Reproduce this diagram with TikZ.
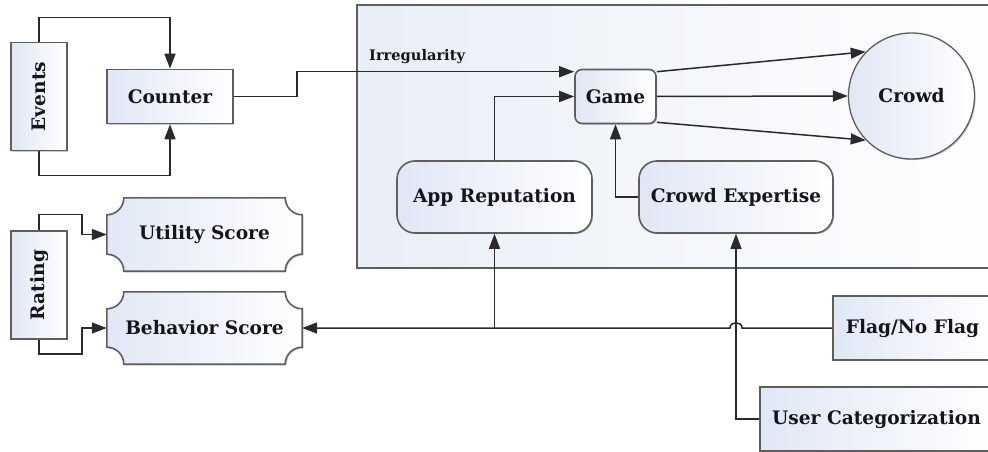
\documentclass[tikz,border=0pt]{standalone}
\usepackage{graphicx}
\usepackage{fontspec}
\setmainfont{DejaVu Serif}
\usetikzlibrary{arrows.meta,calc,shadows}
\pgfdeclarelayer{bg}
\pgfsetlayers{bg,main}
\definecolor{boxline}{HTML}{5E5E5E}
\definecolor{wire}{HTML}{2A2A2A}
\definecolor{tint}{HTML}{E0E7F5}
\definecolor{paneltint}{HTML}{E9EEF6}
\definecolor{ink}{HTML}{151520}
\newcommand\plaqueof[1]{%
  \begin{pgfonlayer}{bg}
  \path[plaque] let \p1=(#1.north west), \p2=(#1.south east) in
    ({\x1+17pt},{\y1}) -- ({\x2-17pt},{\y1})
    .. controls ({\x2-17pt},{\y1-9.4pt}) and ({\x2-9.4pt},{\y1-17pt}) .. ({\x2},{\y1-17pt})
    -- ({\x2},{\y2+17pt})
    .. controls ({\x2-9.4pt},{\y2+17pt}) and ({\x2-17pt},{\y2+9.4pt}) .. ({\x2-17pt},{\y2})
    -- ({\x1+17pt},{\y2})
    .. controls ({\x1+17pt},{\y2+9.4pt}) and ({\x1+9.4pt},{\y2+17pt}) .. ({\x1},{\y2+17pt})
    -- ({\x1},{\y1-17pt})
    .. controls ({\x1+9.4pt},{\y1-17pt}) and ({\x1+17pt},{\y1-9.4pt}) .. cycle;
  \end{pgfonlayer}}
\begin{document}
\begin{tikzpicture}[x=1pt,y=-1pt,
  every node/.style={font=\fontsize{18.6}{21}\selectfont\bfseries, text=ink, inner sep=0pt},
  shadedfill/.style={left color=tint, middle color=tint!30!white, right color=white},
  softshadow/.style={general shadow={fill=black, opacity=0.2, shadow xshift=1.2pt, shadow yshift=-1.2pt}},
  box/.style={draw=boxline, line width=1.6pt, shadedfill, softshadow, rectangle},
  rbox/.style={box, rounded corners=#1},
  plaque/.style={draw=boxline, line width=1.6pt, shadedfill, softshadow},
  textonly/.style={rectangle},
  wirearrow/.style={draw=wire, line width=1.5pt, -{Triangle[length=15pt,width=11pt]}},
  label/.style={font=\fontsize{14.6}{16}\selectfont\bfseries}]
\useasboundingbox (0,0) rectangle (988,452);
\clip (0,0) rectangle (988,452);
\path[draw=boxline, line width=1.6pt, left color=paneltint, middle color=paneltint!25!white, right color=white]
  (357,5) rectangle (1010,268);

% left column
\node[box, minimum width=56, minimum height=108] (events) at (39,96.5) {\rotatebox{90}{Events}};
\node[box, minimum width=126, minimum height=54] (counter) at (170,96.5) {Counter};
\node[box, minimum width=56, minimum height=108] (rating) at (39,285) {\rotatebox{90}{Rating}};
\node[textonly, minimum width=195, minimum height=73] (utility) at (204.5,234.5) {Utility Score};
\plaqueof{utility}
\node[textonly, minimum width=195, minimum height=72] (behavior) at (204.5,328) {Behavior Score};
\plaqueof{behavior}

% panel
\node[label, anchor=base west] (irreg) at (369,61) {Irregularity};
\node[rbox=7pt, minimum width=81, minimum height=54] (game) at (615.5,96.5) {Game};
\node[box, circle, minimum size=126, line width=1.3pt] (crowd) at (911.5,96) {Crowd};
\node[rbox=18pt, minimum width=195, minimum height=72] (apprep) at (494.5,197) {App Reputation};
\node[rbox=18pt, minimum width=194, minimum height=72] (expert) at (736,197) {Crowd Expertise};

% right inputs
\node[box, minimum width=159, minimum height=64] (flag) at (912.5,328) {Flag/No Flag};
\node[box, minimum width=233, minimum height=64] (usercat) at (876.5,419) {User Categorization};

% connectors
\draw[wirearrow] (events.north) -- ++(0,-24) -| (counter.north);
\draw[wirearrow] (events.south) -- ++(0,24) -| (counter.south);
\draw[wirearrow] (counter.east) -- ++(63,0) |- ($(game.north west)+(0,3)$);
\draw[wirearrow] (apprep.north) |- (game.west);
\draw[wirearrow] (expert.west) -| (game.south);
\draw[wirearrow] ($(game.north east)+(0,3)$) -- (crowd.136);
\draw[wirearrow] (game.east) -- (crowd.west);
\draw[wirearrow] ($(game.south east)+(0,-2)$) -- (crowd.224);

\coordinate (jump) at (expert.south |- flag.west);
\draw[wirearrow] (flag.west) -- ($(jump)+(6,0)$)
  .. controls +(0,-7) and +(0,-7) .. ($(jump)+(-6,0)$) -- (behavior.east);
\draw[wirearrow] (apprep.south |- flag.west) -- (apprep.south);
\draw[wirearrow] (usercat.west) -| (expert.south);

\draw[wirearrow] (rating.north) |- ($(utility.west)+(-25,-20)$) |- (utility.west);
\draw[wirearrow] (rating.south) |- ($(behavior.west)+(-25,26)$) |- (behavior.west);
\end{tikzpicture}
\end{document}
